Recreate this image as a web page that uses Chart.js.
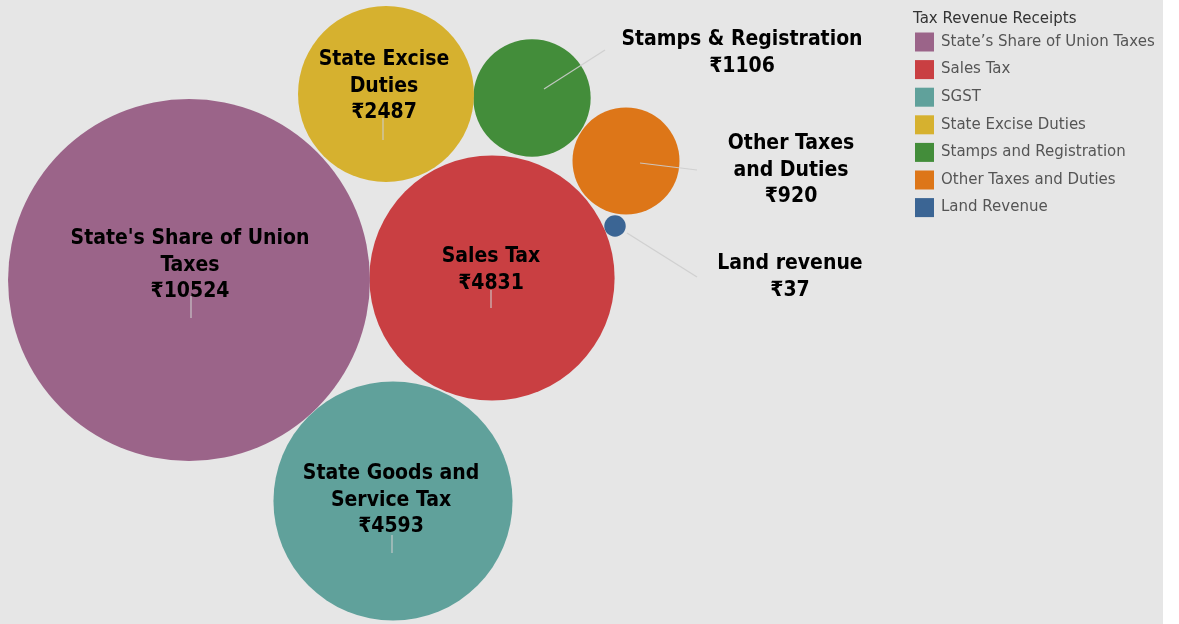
<!DOCTYPE html>
<html><head><meta charset="utf-8">
<script src="https://cdn.jsdelivr.net/npm/chart.js@4/dist/chart.umd.min.js"></script>
<style>
html,body{margin:0;padding:0;background:#fff;}
#wrap{position:absolute;left:0;top:0;width:1163px;height:624px;background:#e6e6e6;}
canvas{display:block;}
</style></head>
<body>
<div id="wrap"><canvas id="c" width="1163" height="624"></canvas></div>
<script>
// ---- data ----
const legendTitle = "Tax Revenue Receipts";
const categories = ["State’s Share of Union Taxes","Sales Tax","SGST","State Excise Duties","Stamps and Registration","Other Taxes and Duties","Land Revenue"];
const bubbleLabels = [["State's Share of Union","Taxes"],["Sales Tax"],["State Goods and","Service Tax"],["State Excise","Duties"],["Stamps & Registration"],["Other Taxes","and Duties"],["Land revenue"]];
const values = [10524, 4831, 4593, 2487, 1106, 920, 37];
const colors = ["#9b6489","#c93f42","#60a19b","#d6b12f","#438d3a","#dd7618","#3b6594"];
// packed-layout positions (layout units)
const posX = [189, 492, 393, 386, 532, 626, 615];
const posY = [280, 278, 501, 94, 98, 161, 226];
// label anchors (layout units)
const labelX = [190, 491, 391, 384, 742, 791, 790];
const labelY = [239, 257, 474, 60, 40, 144, 264];
// leader lines (layout units)
const leadX1 = [191, 491, 392, 383, 544, 640, 627];
const leadY1 = [296, 290, 535, 118, 89, 163, 233];
const leadX2 = [191, 491, 392, 383, 605, 697, 697];
const leadY2 = [318, 308, 553, 140, 50, 170, 277];

const radiusScale = 1.764; // px per sqrt(value)

const labelPlugin = {
  id:'labels',
  afterDatasetsDraw(chart){
    const {ctx, scales:{x,y}} = chart;
    ctx.save();
    // leader lines
    ctx.strokeStyle = 'rgba(205,205,205,0.9)';
    ctx.lineWidth = 1.2;
    for(let i=0;i<values.length;i++){
      ctx.beginPath();
      ctx.moveTo(x.getPixelForValue(leadX1[i]), y.getPixelForValue(leadY1[i]));
      ctx.lineTo(x.getPixelForValue(leadX2[i]), y.getPixelForValue(leadY2[i]));
      ctx.stroke();
    }
    ctx.fillStyle = '#000';
    ctx.font = 'bold 21px "DejaVu Sans Condensed", "DejaVu Sans", sans-serif';
    ctx.textAlign = 'center';
    ctx.textBaseline = 'middle';
    for(let i=0;i<values.length;i++){
      const lines = bubbleLabels[i].concat(['₹' + values[i]]);
      const px = x.getPixelForValue(labelX[i]);
      const py = y.getPixelForValue(labelY[i]);
      lines.forEach((t,j)=>ctx.fillText(t, px, py + j*26.5));
    }
    // legend
    ctx.textAlign = 'left';
    ctx.font = '15px "DejaVu Sans", sans-serif';
    ctx.fillStyle = '#333';
    ctx.fillText(legendTitle, 913, 19);
    categories.forEach((c,i)=>{
      const cy = 42 + i*27.6;
      ctx.fillStyle = colors[i];
      ctx.fillRect(915, cy-9.5, 19, 19);
      ctx.fillStyle = '#555';
      ctx.fillText(c, 941, cy);
    });
    ctx.restore();
  }
};

new Chart(document.getElementById('c'), {
  type:'bubble',
  data:{
    datasets: categories.map((c,i)=>({
      label:c,
      data:[{x:posX[i], y:posY[i], r: radiusScale*Math.sqrt(values[i])}],
      backgroundColor:colors[i],
      borderWidth:0,
      hoverRadius:0,
      clip:false
    }))
  },
  options:{
    responsive:false,
    animation:false,
    layout:{padding:0, autoPadding:false},
    plugins:{legend:{display:false}, tooltip:{enabled:false}},
    scales:{
      x:{type:'linear', min:0, max:1163, display:false},
      y:{type:'linear', min:0, max:624, reverse:true, display:false}
    }
  },
  plugins:[labelPlugin]
});
</script>
</body></html>
